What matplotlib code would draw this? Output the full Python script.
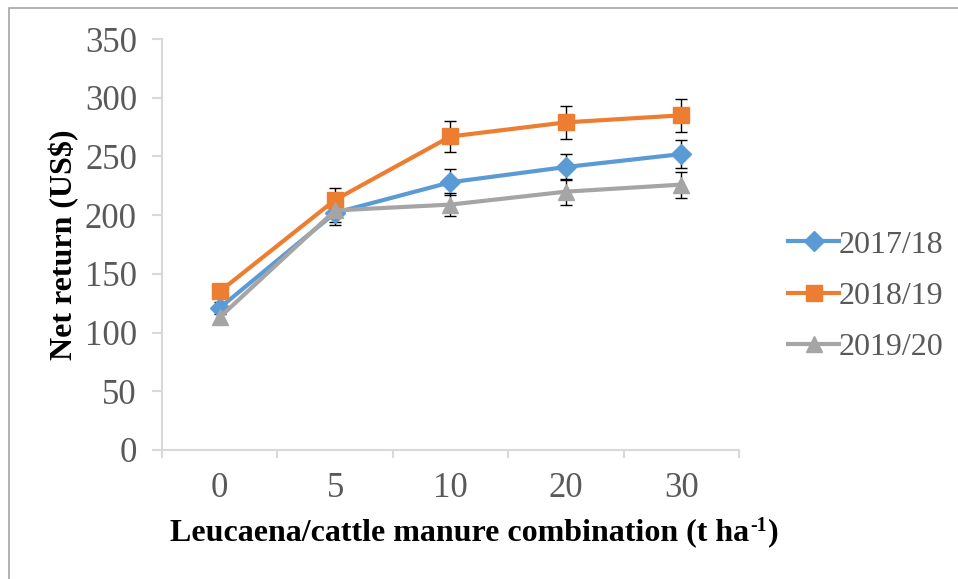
import numpy as np
import matplotlib
matplotlib.use("Agg")
import matplotlib.pyplot as plt
from matplotlib.patches import Rectangle

plt.rcParams['font.family'] = ['Liberation Serif', 'DejaVu Serif']

# treatment levels and net return per season
categories = ['0', '5', '10', '20', '30']
series_names = ['2017/18', '2018/19', '2019/20']
net_2017 = [121, 202, 228, 241, 252]
net_2018 = [135, 213, 267, 279, 285]
net_2019 = [113, 204, 209, 220, 226]
err_2017 = [5, 10, 11, 11, 12]
err_2018 = [5, 10, 13, 14, 14]
err_2019 = [5, 10, 10, 11, 11]

colors = ['#5B9BD5', '#ED7D31', '#A5A5A5']
markers = ['D', 's', '^']
msizes = [10.5, 12, 12]

fig = plt.figure(figsize=(9.58, 5.79), dpi=100)
ax = fig.add_axes([162/958, 1-450/579, (739-162)/958, (450-39)/579])

# thin frame round the whole figure
fig.patches.append(Rectangle((9/958, -0.1), 1.2, (579-8)/579+0.1, transform=fig.transFigure,
                             fill=False, edgecolor='#A6A6A6', linewidth=1.2))

x = np.arange(len(categories))
values = [net_2017, net_2018, net_2019]
errors = [err_2017, err_2018, err_2019]
for i in range(len(values)):
    ax.errorbar(x, values[i], yerr=errors[i], fmt='none', ecolor='black', elinewidth=1.0,
                capsize=4.5, capthick=1.0, zorder=2)
for i in range(len(values)):
    ax.plot(x, values[i], color=colors[i], marker=markers[i], markersize=msizes[i],
            linewidth=3.0, label=series_names[i], zorder=3 + i)

ax.set_xlim(-0.5, len(categories) - 0.5)
ax.set_ylim(0, 350)
ax.set_yticks(np.arange(0, 351, 50))
ax.set_xticks(x)
ax.set_xticklabels(categories)
ax.set_xticks(np.arange(-0.5, len(categories), 1.0), minor=True)

for s in ['top', 'right']:
    ax.spines[s].set_visible(False)
for s in ['left', 'bottom']:
    ax.spines[s].set_color('#D9D9D9')
    ax.spines[s].set_linewidth(1.5)

ax.tick_params(axis='y', which='major', length=7, width=1.5, color='#D9D9D9',
               labelsize=25, labelcolor='#595959', pad=11)
ax.tick_params(axis='x', which='major', length=0, labelsize=25, labelcolor='#595959', pad=16)
ax.tick_params(axis='x', which='minor', length=6, width=1.5, color='#D9D9D9')

# x label: main text, then a small raised "-1" and the closing bracket
lab_size = 23
main = fig.text(170/958, 1-533/579, 'Leucaena/cattle manure combination (t ha',
                ha='left', va='center', fontsize=lab_size, fontweight='bold')
fig.canvas.draw()
rend = fig.canvas.get_renderer()
ext = main.get_window_extent(rend)
sup = fig.text(ext.x1 / 958 + 1/958, 1-526/579, '-1', ha='left', va='center',
               fontsize=lab_size * 0.62, fontweight='bold')
ext2 = sup.get_window_extent(rend)
fig.text(ext2.x1 / 958 + 1/958, 1-533/579, ')', ha='left', va='center',
         fontsize=lab_size, fontweight='bold')

fig.text(64/958, 1-245/579, 'Net return (US$)', ha='center', va='center', rotation=90,
         fontsize=lab_size, fontweight='bold')

leg = ax.legend(loc='center left', bbox_to_anchor=(772/958, 1-296/579),
                bbox_transform=fig.transFigure, frameon=False, fontsize=23,
                handlelength=1.6, handletextpad=0.0, labelspacing=0.68, borderpad=0)
for t in leg.get_texts():
    t.set_color('#595959')

fig.savefig('out.png', dpi=100)
